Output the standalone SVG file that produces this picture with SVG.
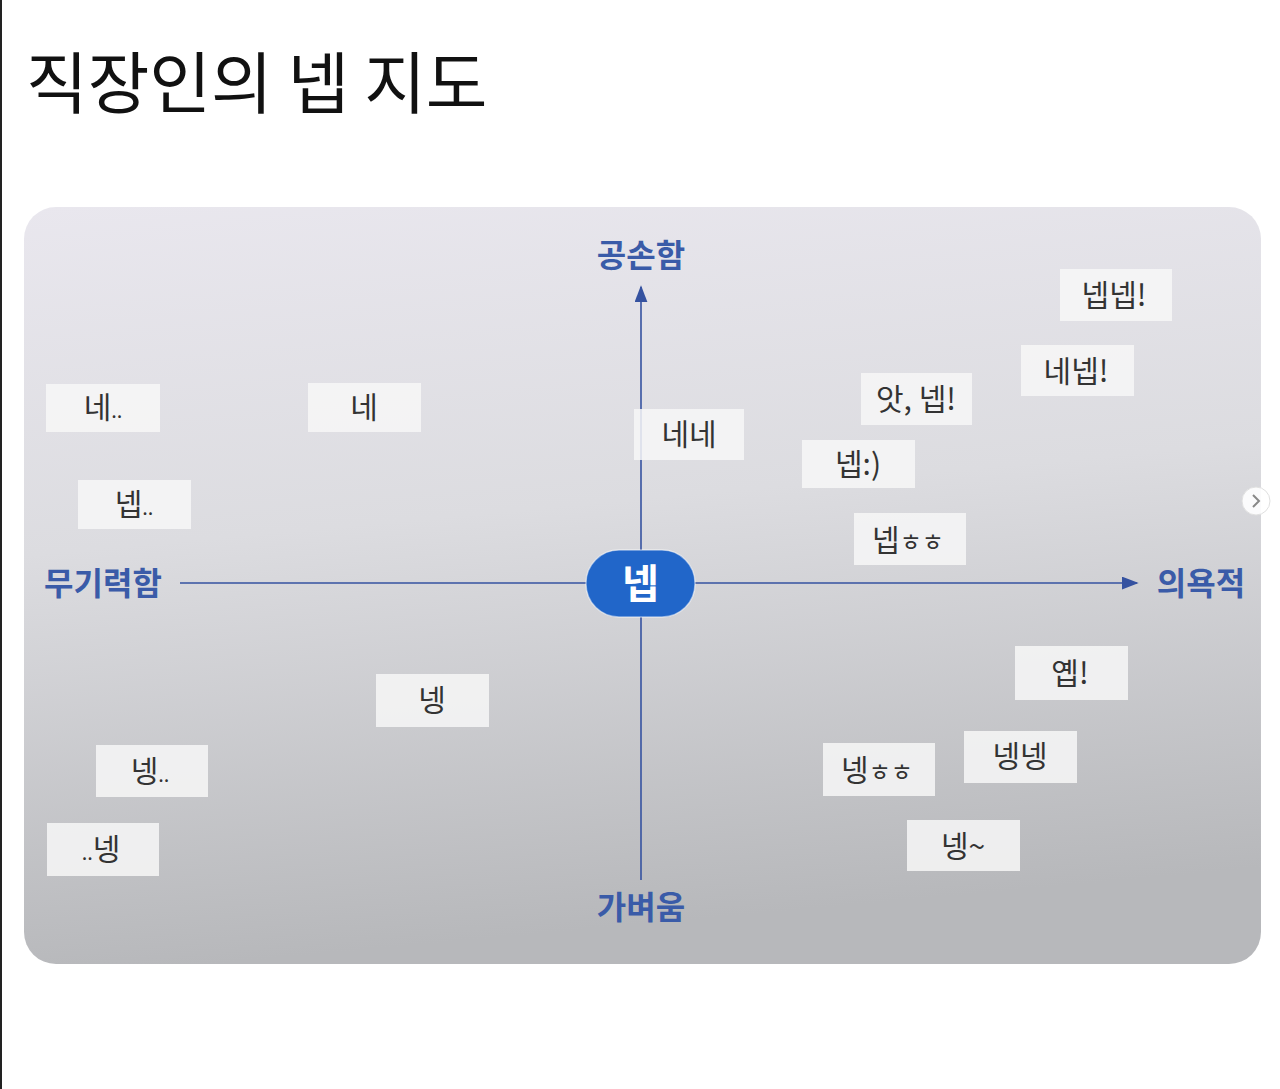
<svg xmlns="http://www.w3.org/2000/svg" width="1280" height="1089" viewBox="0 0 1280 1089">
<defs>
<linearGradient id="card" x1="0" y1="0" x2="0.15" y2="1">
<stop offset="0" stop-color="#e9e7ee"/>
<stop offset="0.45" stop-color="#dcdce0"/>
<stop offset="1" stop-color="#b7b8bb"/>
</linearGradient>
<marker id="arr" viewBox="0 0 10 10" refX="9" refY="5" markerWidth="17" markerHeight="13" markerUnits="userSpaceOnUse" orient="auto" preserveAspectRatio="none">
<path d="M0,0 L10,5 L0,10 z" fill="#3552a0"/>
</marker>
<style>
.box{fill:#f7f7f7;fill-opacity:0.85}
.t{font-family:"Noto Sans CJK KR","Noto Sans",sans-serif;font-size:30px;fill:#333;text-anchor:middle}
.ax{font-family:"Noto Sans CJK KR","Noto Sans",sans-serif;font-size:32px;font-weight:bold;fill:#3a5ba8;text-anchor:middle}
.axis{stroke:#3552a0;stroke-width:1.6;fill:none}
.sm{font-size:20px}
.hh{font-size:24px}
</style>
</defs>
<rect width="1280" height="1089" fill="#ffffff"/>
<rect x="0" y="0" width="2" height="1089" fill="#222"/>
<text x="26" y="108" font-family="'Noto Sans CJK KR','Noto Sans',sans-serif" font-size="67" fill="#111">직장인의 넵 지도</text>
<rect x="24" y="207" width="1237" height="757" rx="32" fill="url(#card)"/>
<g id="connectors">
<line class="axis" x1="641" y1="880" x2="641" y2="287" marker-end="url(#arr)"/>
<line class="axis" x1="180" y1="583" x2="1137" y2="583" marker-end="url(#arr)"/>
</g>
<g id="axis-top"><text class="ax" x="641" y="267">공손함</text></g>
<g id="axis-left"><text class="ax" x="103" y="595">무기력함</text></g>
<g id="axis-right"><text class="ax" x="1201" y="595">의욕적</text></g>
<g id="axis-bottom"><text class="ax" x="641" y="919">가벼움</text></g>
<g id="center">
<rect x="586" y="550" width="109" height="67" rx="33" fill="#2166c9" stroke="#ffffff" stroke-opacity="0.5" stroke-width="1.5"/>
<text x="640.5" y="598" font-family="'Noto Sans CJK KR','Noto Sans',sans-serif" font-size="40" font-weight="bold" fill="#fff" text-anchor="middle">넵</text>
</g>
<g id="n1"><rect class="box" x="46" y="384" width="114" height="48"/><text class="t" x="103" y="418">네<tspan class="sm">..</tspan></text></g>
<g id="n2"><rect class="box" x="308" y="383" width="113" height="49"/><text class="t" x="364" y="418">네</text></g>
<g id="n3"><rect class="box" x="78" y="480" width="113" height="49"/><text class="t" x="134" y="515">넵<tspan class="sm">..</tspan></text></g>
<g id="n4"><rect class="box" x="634" y="409" width="110" height="51"/><text class="t" x="689" y="445">네네</text></g>
<g id="n5"><rect class="box" x="861" y="373" width="111" height="52"/><text class="t" x="916" y="410">앗, 넵!</text></g>
<g id="n6"><rect class="box" x="802" y="440" width="113" height="48"/><text class="t" x="858" y="475">넵:)</text></g>
<g id="n7"><rect class="box" x="854" y="513" width="112" height="52"/><text class="t" x="908" y="551">넵<tspan class="hh">ㅎㅎ</tspan></text></g>
<g id="n8"><rect class="box" x="1060" y="269" width="112" height="52"/><text class="t" x="1114" y="306">넵넵!</text></g>
<g id="n9"><rect class="box" x="1021" y="345" width="113" height="51"/><text class="t" x="1076" y="382">네넵!</text></g>
<g id="n10"><rect class="box" x="376" y="674" width="113" height="53"/><text class="t" x="432" y="711">넹</text></g>
<g id="n11"><rect class="box" x="96" y="745" width="112" height="52"/><text class="t" x="150" y="782">넹<tspan class="sm">..</tspan></text></g>
<g id="n12"><rect class="box" x="47" y="823" width="112" height="53"/><text class="t" x="101" y="860"><tspan class="sm">..</tspan>넹</text></g>
<g id="n13"><rect class="box" x="1015" y="646" width="113" height="54"/><text class="t" x="1070" y="684">옙!</text></g>
<g id="n14"><rect class="box" x="964" y="731" width="113" height="52"/><text class="t" x="1020" y="767">넹넹</text></g>
<g id="n15"><rect class="box" x="823" y="743" width="112" height="53"/><text class="t" x="877" y="781">넹<tspan class="hh">ㅎㅎ</tspan></text></g>
<g id="n16"><rect class="box" x="907" y="820" width="113" height="51"/><text class="t" x="963" y="857">넹~</text></g>
<g id="nav">
<circle cx="1256" cy="501" r="14" fill="#ffffff" fill-opacity="0.9" stroke="#e0e0e0"/>
<path d="M1253,495 L1259,501 L1253,507" fill="none" stroke="#888" stroke-width="2"/>
</g>
</svg>
